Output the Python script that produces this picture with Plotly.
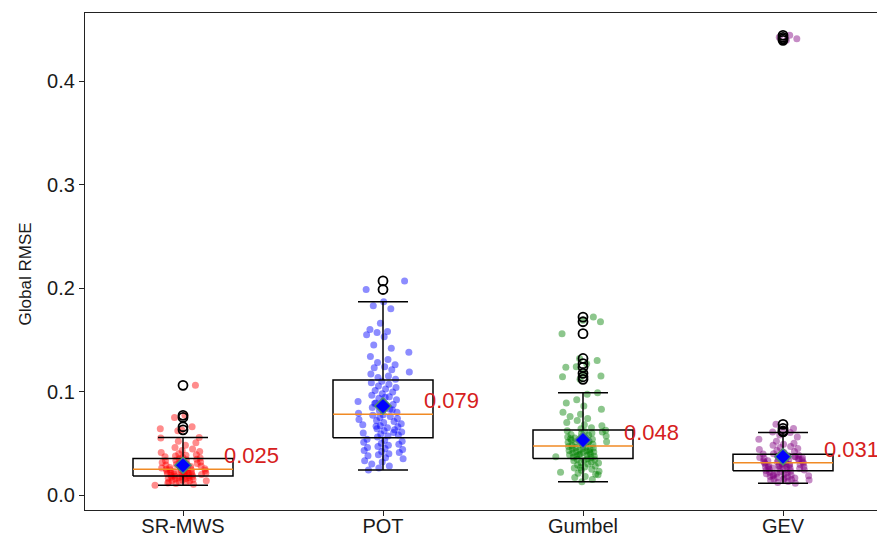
import numpy as np
import plotly.graph_objects as go

categories = ["SR-MWS", "POT", "Gumbel", "GEV"]
colors = ["red", "blue", "green", "purple"]

# box statistics
q1 = [0.0184, 0.0554, 0.0354, 0.0235]
median = [0.0248, 0.0780, 0.0473, 0.0312]
q3 = [0.0354, 0.1111, 0.0628, 0.0393]
whisker_lo = [0.0094, 0.0242, 0.0129, 0.0113]
whisker_hi = [0.0557, 0.1868, 0.0989, 0.0605]
mean = [0.0287, 0.0860, 0.0531, 0.0370]
median_labels = ["0.025", "0.079", "0.048", "0.031"]

fliers_srmws = [0.106, 0.077, 0.075, 0.066, 0.063]
fliers_pot = [0.207, 0.1987]
fliers_gumbel = [0.172, 0.1675, 0.156, 0.132, 0.127, 0.1234, 0.1176, 0.1143, 0.1118]
fliers_gev = [0.0683, 0.0644, 0.062, 0.061, 0.4396, 0.441, 0.4425, 0.4444]

vals_srmws = [
    0.0094, 0.0105, 0.011, 0.012, 0.0125, 0.013, 0.0135, 0.014, 0.0145, 0.015, 0.0155,
    0.016, 0.0163, 0.0167, 0.017, 0.0173, 0.0176, 0.018, 0.0182, 0.0183, 0.0115, 0.0138,
    0.0186, 0.019, 0.0193, 0.0196, 0.02, 0.0203, 0.0206, 0.021, 0.0213, 0.0216, 0.022,
    0.0223, 0.0226, 0.023, 0.0233, 0.0236, 0.024, 0.0243, 0.0245, 0.0247, 0.0198, 0.0218,
    0.025, 0.0255, 0.026, 0.0265, 0.027, 0.0275, 0.028, 0.0285, 0.029, 0.0295, 0.03,
    0.0305, 0.031, 0.0315, 0.032, 0.0325, 0.033, 0.0335, 0.034, 0.0345, 0.035, 0.0262,
    0.0358, 0.0365, 0.037, 0.0378, 0.0385, 0.039, 0.04, 0.041, 0.042, 0.043, 0.0445,
    0.046, 0.048, 0.0505, 0.052, 0.055, 0.0557, 0.063, 0.066, 0.075, 0.077, 0.106, 0.062, 0.064,
]
vals_pot = [
    0.0242, 0.026, 0.028, 0.03, 0.032, 0.033, 0.035, 0.036, 0.038, 0.039, 0.04, 0.041,
    0.042, 0.043, 0.044, 0.045, 0.046, 0.047, 0.048, 0.049, 0.05, 0.051, 0.052, 0.053, 0.054,
    0.056, 0.057, 0.058, 0.059, 0.06, 0.061, 0.062, 0.063, 0.064, 0.065, 0.066, 0.067,
    0.068, 0.069, 0.07, 0.071, 0.072, 0.073, 0.074, 0.075, 0.076, 0.077, 0.0775, 0.0605, 0.0665,
    0.079, 0.08, 0.0815, 0.083, 0.0845, 0.086, 0.0875, 0.089, 0.0905, 0.092, 0.0935,
    0.095, 0.0965, 0.098, 0.0995, 0.101, 0.1025, 0.104, 0.1055, 0.107, 0.1085, 0.11,
    0.0825, 0.0885, 0.0945,
    0.112, 0.1135, 0.115, 0.117, 0.119, 0.121, 0.123, 0.124, 0.126, 0.128, 0.131, 0.134,
    0.138, 0.142, 0.145, 0.153, 0.155, 0.157, 0.158, 0.16, 0.166, 0.18, 0.183, 0.1868,
    0.1987, 0.207,
]
vals_gumbel = [
    0.0129, 0.015, 0.017, 0.018, 0.02, 0.021, 0.022, 0.023, 0.024, 0.025, 0.026, 0.027,
    0.028, 0.029, 0.03, 0.031, 0.0315, 0.032, 0.033, 0.0335, 0.034, 0.0345, 0.035, 0.0195, 0.0265,
    0.036, 0.0365, 0.037, 0.0375, 0.038, 0.0385, 0.039, 0.0395, 0.04, 0.0405, 0.041,
    0.0415, 0.042, 0.0425, 0.043, 0.0435, 0.044, 0.0445, 0.045, 0.0455, 0.046, 0.0465,
    0.047, 0.0388, 0.0418,
    0.0478, 0.0485, 0.049, 0.0495, 0.05, 0.051, 0.0515, 0.052, 0.053, 0.0535, 0.054,
    0.055, 0.0555, 0.056, 0.057, 0.058, 0.0585, 0.059, 0.06, 0.061, 0.0615, 0.062, 0.0625,
    0.0505, 0.0545,
    0.064, 0.065, 0.067, 0.068, 0.07, 0.072, 0.074, 0.076, 0.078, 0.08, 0.083, 0.086,
    0.089, 0.092, 0.0973, 0.0989, 0.1118, 0.1143, 0.115, 0.1176, 0.1234, 0.124, 0.127,
    0.13, 0.132, 0.156, 0.1675, 0.169, 0.172,
]
vals_gev = [
    0.0113, 0.012, 0.013, 0.014, 0.0145, 0.015, 0.0155, 0.016, 0.0165, 0.017, 0.0175,
    0.018, 0.0185, 0.019, 0.0195, 0.02, 0.0205, 0.021, 0.0215, 0.022, 0.0225, 0.023, 0.0187, 0.0152,
    0.0238, 0.0242, 0.0246, 0.025, 0.0254, 0.0258, 0.0262, 0.0266, 0.027, 0.0274, 0.0278,
    0.0282, 0.0286, 0.029, 0.0294, 0.0298, 0.0302, 0.0306, 0.031, 0.0268, 0.0284, 0.0296,
    0.0256, 0.0304,
    0.0315, 0.032, 0.0325, 0.033, 0.0335, 0.034, 0.0345, 0.035, 0.0355, 0.036, 0.0365,
    0.037, 0.0375, 0.038, 0.0385, 0.039, 0.0328, 0.0342, 0.0358, 0.0372, 0.0318, 0.0362,
    0.0348, 0.0378,
    0.0397, 0.04, 0.041, 0.042, 0.043, 0.044, 0.045, 0.046, 0.047, 0.048, 0.049, 0.05,
    0.052, 0.054, 0.056, 0.058, 0.0605, 0.061, 0.062, 0.0644, 0.0683, 0.4396, 0.441,
    0.4425, 0.4444,
]

values = [vals_srmws, vals_pot, vals_gumbel, vals_gev]
fliers = [fliers_srmws, fliers_pot, fliers_gumbel, fliers_gev]
positions = [1, 2, 3, 4]
y_title = "Global RMSE"

FONT = "Liberation Sans, Arial, sans-serif"
BOX_HALF = 0.25
CAP_HALF = 0.125
JIT = 0.14

fig = go.Figure()

# jittered points (deterministic jitter pattern)
for g, (pos, vals, col) in enumerate(zip(positions, values, colors)):
    n = len(vals)
    i = np.arange(n)
    off = JIT * ((i * 0.6180339887 + g * 0.17) % 1 + (i * 0.7548776662 + g * 0.31) % 1 - 1)
    fig.add_trace(go.Scatter(
        x=pos + off, y=vals, mode="markers",
        marker=dict(size=7, color=col, opacity=0.45, line=dict(width=0)),
        hoverinfo="y", showlegend=False))

# box outlines, whiskers and caps
bx, by = [], []
for pos, a, b, lo, hi in zip(positions, q1, q3, whisker_lo, whisker_hi):
    l, r = pos - BOX_HALF, pos + BOX_HALF
    bx += [l, r, r, l, l, None]
    by += [a, a, b, b, a, None]
    bx += [pos, pos, None, pos, pos, None]
    by += [a, lo, None, b, hi, None]
    bx += [pos - CAP_HALF, pos + CAP_HALF, None, pos - CAP_HALF, pos + CAP_HALF, None]
    by += [lo, lo, None, hi, hi, None]
fig.add_trace(go.Scatter(x=bx, y=by, mode="lines", line=dict(color="black", width=1.5),
                         hoverinfo="skip", showlegend=False))

# medians
mx, my = [], []
for pos, m in zip(positions, median):
    mx += [pos - BOX_HALF, pos + BOX_HALF, None]
    my += [m, m, None]
fig.add_trace(go.Scatter(x=mx, y=my, mode="lines", line=dict(color="#f08a24", width=1.5),
                         hoverinfo="skip", showlegend=False))

# fliers
fx, fy = [], []
for pos, fl in zip(positions, fliers):
    fx += [pos] * len(fl)
    fy += fl
fig.add_trace(go.Scatter(x=fx, y=fy, mode="markers",
                         marker=dict(symbol="circle-open", size=9, color="black", line=dict(width=1.8)),
                         hoverinfo="y", showlegend=False))

# means
fig.add_trace(go.Scatter(x=positions, y=mean, mode="markers",
                         marker=dict(symbol="diamond", size=12.5, color="blue",
                                     line=dict(color="#4e8a6e", width=1.5)),
                         hoverinfo="y", showlegend=False))

for pos, m, lab in zip(positions, median, median_labels):
    fig.add_annotation(x=pos + 0.2, y=m, text=lab, showarrow=False,
                       xanchor="left", yanchor="bottom", xref="x", yref="y",
                       font=dict(family=FONT, size=22, color="#d62020"), borderpad=0)

# y-axis title
fig.add_annotation(x=0, xref="paper", xshift=-60, y=0.474, yref="paper",
                   text=y_title, textangle=-90, showarrow=False,
                   xanchor="center", yanchor="middle",
                   font=dict(family=FONT, size=17, color="#1a1a1a"))

fig.update_layout(
    width=877, height=537,
    margin=dict(l=85, r=0, t=13, b=27),
    paper_bgcolor="white", plot_bgcolor="white",
    font=dict(family=FONT, size=20, color="#1a1a1a"),
    showlegend=False,
)
fig.update_xaxes(range=[0.51, 4.47], tickvals=positions, ticktext=categories,
                 showgrid=False, zeroline=False, showline=True, linecolor="#222222",
                 linewidth=1.3, mirror=True, ticks="outside", ticklen=5, tickcolor="#222222",
                 tickfont=dict(size=20), automargin=False, ticklabelstandoff=-7)
fig.update_yaxes(range=[-0.0145, 0.466], tickvals=[0, 0.1, 0.2, 0.3, 0.4],
                 ticktext=["0.0", "0.1", "0.2", "0.3", "0.4"],
                 showgrid=False, zeroline=False, showline=True, linecolor="#222222",
                 linewidth=1.3, ticks="outside", ticklen=5, tickcolor="#222222",
                 tickfont=dict(size=20), automargin=False)

fig.write_html(
    "out.html",
    config={"displayModeBar": False},
    post_script="document.body.style.margin='0';document.body.style.overflow='hidden';",
)
